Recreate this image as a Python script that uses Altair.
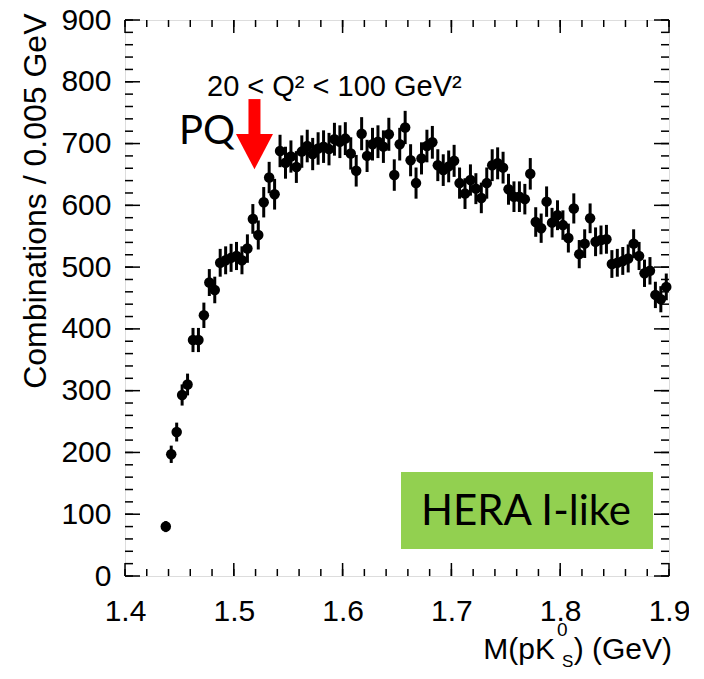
import altair as alt
import numpy as np
import pandas as pd

# ---- data ----
mass = [round(1.4375 + 0.005 * i, 4) for i in range(93)]  # bin centres, 0.005 GeV bins
counts = [80, 197, 233, 293, 310, 382, 382, 422, 475, 463,
          507, 511, 515, 518, 511, 530, 578, 552, 605, 645,
          618, 688, 669, 679, 662, 687, 696, 683, 692, 695,
          691, 707, 703, 708, 684, 656, 716, 680, 699, 703,
          695, 715, 649, 699, 726, 673, 636, 676, 696, 702,
          665, 657, 663, 672, 636, 619, 641, 627, 612, 636,
          665, 668, 661, 626, 614, 614, 610, 651, 573, 563,
          606, 572, 584, 568, 547, 595, 521, 538, 579, 541,
          544, 545, 505, 507, 510, 514, 538, 518, 490, 494,
          455, 448, 468]

x_major = [1.4, 1.5, 1.6, 1.7, 1.8, 1.9]
x_minor = [round(1.4 + 0.02 * i, 2) for i in range(26)]
y_major = [0, 100, 200, 300, 400, 500, 600, 700, 800, 900]
y_minor = list(range(0, 901, 20))

arrow_mass = [1.519]
arrow_shaft_top = [772]
arrow_shaft_bottom = [700]
arrow_head = [687]

err = np.sqrt(np.array(counts, dtype=float))
df = pd.DataFrame({"m": mass, "n": counts,
                   "lo": np.array(counts) - err, "hi": np.array(counts) + err})

W, H = 544, 556
FONT = "Liberation Sans"

xscale = alt.Scale(domain=[1.4, 1.9], nice=False, zero=False)
yscale = alt.Scale(domain=[0, 900], nice=False, zero=False)

X_AXIS = alt.Axis(values=x_major, format=".1f", ticks=False, domain=False,
                  grid=False, labelFontSize=30, labelFont=FONT,
                  labelColor="black", labelPadding=20, labelFlush=False,
                  labelOverlap=False, title=None)
Y_AXIS = alt.Axis(values=y_major, ticks=False, domain=False, grid=False,
                  labelFontSize=30, labelFont=FONT, labelColor="black",
                  labelPadding=14, labelFlush=False, labelOverlap=False,
                  title="Combinations / 0.005 GeV", titleFontSize=32,
                  titleFont=FONT, titleFontWeight=400, titleColor="black",
                  titleX=-80, titleY=-7, titleAngle=-90, titleAlign="right",
                  titleBaseline="alphabetic")


def X(field):
    return alt.X(field, scale=xscale, axis=X_AXIS)


def Y(field):
    return alt.Y(field, scale=yscale, axis=Y_AXIS)


points = alt.Chart(df).mark_circle(size=110, color="black", opacity=1).encode(
    x=X("m:Q"), y=Y("n:Q"))

errbars = alt.Chart(df).mark_rule(color="black", strokeWidth=3).encode(
    x=X("m:Q"), y=Y("lo:Q"), y2="hi:Q")


def xticks(vals, length, top):
    d = pd.DataFrame({"m": vals})
    if top:
        return alt.Chart(d).mark_rule(color="black", strokeWidth=1.5).encode(
            x=X("m:Q"), y=alt.value(0), y2=alt.value(length))
    return alt.Chart(d).mark_rule(color="black", strokeWidth=1.5).encode(
        x=X("m:Q"), y=alt.value(H), y2=alt.value(H - length))


def yticks(vals, length, right):
    d = pd.DataFrame({"n": vals})
    if right:
        return alt.Chart(d).mark_rule(color="black", strokeWidth=1.5).encode(
            y=Y("n:Q"), x=alt.value(W), x2=alt.value(W - length))
    return alt.Chart(d).mark_rule(color="black", strokeWidth=1.5).encode(
        y=Y("n:Q"), x=alt.value(0), x2=alt.value(length))


ticks = [xticks(x_minor, 7, False), xticks(x_major, 13, False),
         xticks(x_minor, 7, True), xticks(x_major, 13, True),
         yticks(y_minor, 8, False), yticks(y_major, 15, False),
         yticks(y_minor, 8, True), yticks(y_major, 15, True)]

adf = pd.DataFrame({"m": arrow_mass, "t": arrow_shaft_top,
                    "b": arrow_shaft_bottom, "h": arrow_head})
shaft = alt.Chart(adf).mark_rule(color="#ff0000", strokeWidth=12).encode(
    x=X("m:Q"), y=Y("t:Q"), y2="b:Q")
head = alt.Chart(adf).mark_point(shape="M-1,-0.95L1,-0.95L0,0.95Z", filled=True,
                                 size=1369, color="#ff0000", opacity=1,
                                 strokeWidth=0).encode(
    x=X("m:Q"), y=Y("h:Q"))

one = pd.DataFrame({"a": [0]})


def txt(s, x, y, size, font=FONT, align="left", color="black", baseline="alphabetic"):
    return alt.Chart(one).mark_text(text=s, fontSize=size, font=font, align=align,
                                    baseline=baseline, color=color).encode(
        x=alt.value(x), y=alt.value(y))


box = alt.Chart(one).mark_rect(color="#92d050").encode(
    x=alt.value(276), x2=alt.value(528), y=alt.value(452), y2=alt.value(529))

annots = [
    txt("20 < Q² < 100 GeV²", 82, 76, 29),
    txt("PQ", 54, 124, 40, font="Lato"),
    box,
    txt("HERA I-like", 401, 505, 42, font="Lato", align="center"),
    txt("M(pK", 430, 639, 30, align="right"),
    txt("0", 432, 616, 19),
    txt("S", 437, 647, 17),
    txt(") (GeV)", 547, 639, 30, align="right"),
]

chart = alt.layer(points, errbars, *ticks, shaft, head, *annots).properties(
    width=W, height=H,
    autosize=alt.AutoSizeParams(type="none"),
    padding={"left": 117, "top": 12, "right": 20, "bottom": 95},
).configure_view(stroke="black", strokeWidth=2).configure(background="white")

chart.save("out.html", embed_options={"renderer": "svg", "actions": False})
